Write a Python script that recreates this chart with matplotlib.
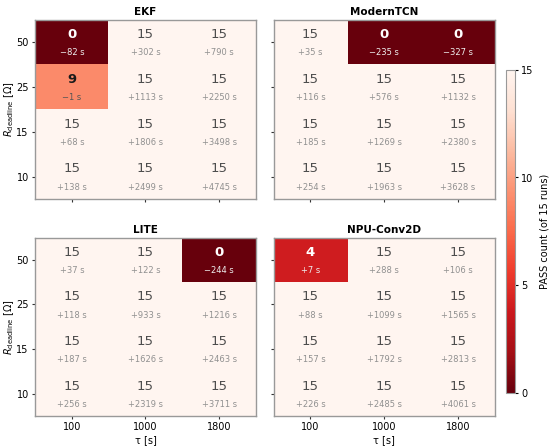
import numpy as np
import matplotlib
matplotlib.use("Agg")
import matplotlib.pyplot as plt
from matplotlib.colors import Normalize

TAU = ["100", "1000", "1800"]
R_DEADLINE = ["50", "25", "15", "10"]
MODELS = ["EKF", "ModernTCN", "LITE", "NPU-Conv2D"]

PASS_EKF = [[0, 15, 15], [9, 15, 15], [15, 15, 15], [15, 15, 15]]
DELTA_EKF = [[-82, 302, 790], [-1, 1113, 2250], [68, 1806, 3498], [138, 2499, 4745]]
PASS_TCN = [[15, 0, 0], [15, 15, 15], [15, 15, 15], [15, 15, 15]]
DELTA_TCN = [[35, -235, -327], [116, 576, 1132], [185, 1269, 2380], [254, 1963, 3628]]
PASS_LITE = [[15, 15, 0], [15, 15, 15], [15, 15, 15], [15, 15, 15]]
DELTA_LITE = [[37, 122, -244], [118, 933, 1216], [187, 1626, 2463], [256, 2319, 3711]]
PASS_NPU = [[4, 15, 15], [15, 15, 15], [15, 15, 15], [15, 15, 15]]
DELTA_NPU = [[7, 288, 106], [88, 1099, 1565], [157, 1792, 2813], [226, 2485, 4061]]

PASS = [PASS_EKF, PASS_TCN, PASS_LITE, PASS_NPU]
DELTA = [DELTA_EKF, DELTA_TCN, DELTA_LITE, DELTA_NPU]

W, H = 550, 448
fig = plt.figure(figsize=(W / 100, H / 100), dpi=100)

def px_axes(x0, y0, x1, y1):
    return fig.add_axes([x0 / W, 1 - y1 / H, (x1 - x0) / W, (y1 - y0) / H])

boxes = [(35, 19.5, 256, 199), (273.5, 19.5, 495, 199),
         (35, 237.5, 256, 416), (273.5, 237.5, 495, 416)]
norm = Normalize(vmin=0, vmax=15)
cmap = plt.get_cmap("Reds_r")

for k, (name, p, d) in enumerate(zip(MODELS, PASS, DELTA)):
    ax = px_axes(*boxes[k])
    p = np.array(p)
    im = ax.imshow(p, cmap=cmap, norm=norm, aspect="auto")
    for i in range(p.shape[0]):
        for j in range(p.shape[1]):
            v = p[i, j]
            dv = d[i][j]
            sign = "+" if dv >= 0 else "\u2212"
            sub = f"{sign}{abs(dv)} s"
            if v == 15:
                ax.text(j, i - 0.17, str(v), ha="center", va="center",
                        fontsize=9.5, color="#4d4d4d")
                ax.text(j, i + 0.24, sub, ha="center", va="center",
                        fontsize=6, color="#909090")
            else:
                c = "white" if v < 7 else "#1a1a1a"
                c2 = "#eeeeee" if v < 7 else "#555555"
                ax.text(j, i - 0.17, str(v), ha="center", va="center",
                        fontsize=9.5, fontweight="bold", color=c)
                ax.text(j, i + 0.24, sub, ha="center", va="center",
                        fontsize=6, color=c2)
    ax.set_title(name, fontsize=7.5, fontweight="bold", pad=3.5)
    ax.set_xticks(range(3))
    ax.set_yticks(range(4))
    for s in ax.spines.values():
        s.set_color("#999999")
        s.set_linewidth(1.0)
    ax.tick_params(labelsize=7, length=2.5, pad=2, color="#333333")
    if k % 2 == 0:
        ax.set_yticklabels(R_DEADLINE)
        ax.set_ylabel(r"$R_{\mathrm{deadline}}$ [Ω]", fontsize=7, labelpad=0.5)
    else:
        ax.set_yticklabels([])
    if k >= 2:
        ax.set_xticklabels(TAU)
        ax.set_xlabel("τ [s]", fontsize=7, labelpad=2)
    else:
        ax.set_xticklabels([])

cax = px_axes(506, 70, 515, 392.5)
cb = fig.colorbar(im, cax=cax, ticks=[0, 5, 10, 15])
cb.outline.set_edgecolor("#999999")
cb.ax.tick_params(labelsize=7, length=2.5, pad=2)
cb.set_label("PASS count (of 15 runs)", fontsize=7, labelpad=4)

fig.savefig("out.png", dpi=100)
